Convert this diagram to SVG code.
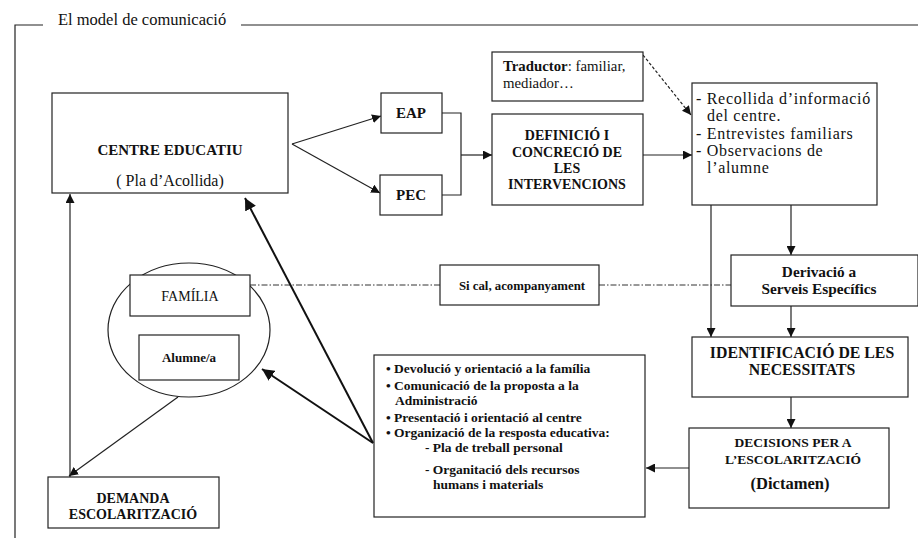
<svg xmlns="http://www.w3.org/2000/svg" width="918" height="538" viewBox="0 0 918 538">
<defs>
<marker id="ah" viewBox="0 0 10 10" refX="10" refY="5" markerWidth="9" markerHeight="9" markerUnits="userSpaceOnUse" orient="auto"><path d="M0,0 L10,5 L0,10 z" fill="#111"/></marker>
<marker id="ahs" viewBox="0 0 10 10" refX="10" refY="5" markerWidth="12" markerHeight="12" markerUnits="userSpaceOnUse" orient="auto"><path d="M0,0 L10,5 L0,10 z" fill="#111"/></marker>
</defs>
<style>
.b{fill:#fff;stroke:#222;stroke-width:1.2}
.t{font-family:"Liberation Serif","Times New Roman",serif;fill:#111}
.bd{font-weight:bold}
.c{text-anchor:middle}
.ln{fill:none;stroke:#222;stroke-width:1.2}
.th{fill:none;stroke:#111;stroke-width:2}
.dd{fill:none;stroke:#333;stroke-width:1;stroke-dasharray:6 2 1.5 2}
.inf{font-size:16px;letter-spacing:0.7px}
</style>
<rect width="918" height="538" fill="#fff"/>
<g id="frame">
<path class="ln" d="M43,25 H15 V538"/>
<path class="ln" d="M241,25 H918"/>
<text class="t" x="58" y="25" font-size="16.5">El model de comunicació</text>
</g>
<g id="connectors">
<path class="ln" d="M292,144 L381,116" marker-end="url(#ah)"/>
<path class="ln" d="M292,144 L380,193" marker-end="url(#ah)"/>
<path class="ln" d="M442,113 H461 V195 H442"/>
<path class="ln" d="M461,155 H492" marker-end="url(#ah)"/>
<path class="ln" d="M643,155 H692" marker-end="url(#ah)"/>
<path class="ln" d="M643,55 L691,115" stroke-dasharray="3 2" marker-end="url(#ah)"/>
<path class="ln" d="M791,205 V255" marker-end="url(#ah)"/>
<path class="ln" d="M711,205 V337" marker-end="url(#ah)"/>
<path class="ln" d="M791,306 V337" marker-end="url(#ah)"/>
<path class="ln" d="M791,397 V428" marker-end="url(#ah)"/>
<path class="ln" d="M689,468 H646" marker-end="url(#ah)"/>
<path class="dd" d="M250,285 H440"/>
<path class="dd" d="M599,285 H731"/>
<path class="ln" d="M178,397 L69,476" marker-end="url(#ah)"/>
<path class="ln" d="M70,477 V194" marker-end="url(#ah)"/>
<path class="th" d="M373,443 L245,198" marker-end="url(#ahs)"/>
<path class="th" d="M373,443 L262,369" marker-end="url(#ahs)"/>
</g>
<g id="centre">
<rect class="b" x="52" y="93" width="236" height="100"/>
<text class="t bd c" x="170" y="155" font-size="15">CENTRE EDUCATIU</text>
<text class="t c" x="170" y="186" font-size="16">( Pla d’Acollida)</text>
</g>
<g id="eap">
<rect class="b" x="381" y="93" width="61" height="40"/>
<text class="t bd c" x="411" y="118" font-size="15">EAP</text>
</g>
<g id="pec">
<rect class="b" x="380" y="175" width="62" height="40"/>
<text class="t bd c" x="411" y="200" font-size="15">PEC</text>
</g>
<g id="traductor">
<rect class="b" x="492" y="52" width="151" height="49"/>
<text class="t" x="503" y="71" font-size="14.8"><tspan font-weight="bold">Traductor</tspan>:  familiar,</text>
<text class="t" x="503" y="88" font-size="14.8">mediador…</text>
</g>
<g id="definicio">
<rect class="b" x="492" y="114" width="151" height="91"/>
<text class="t bd c" x="567" y="140" font-size="14">DEFINICIÓ I</text>
<text class="t bd c" x="567" y="157" font-size="14">CONCRECIÓ DE</text>
<text class="t bd c" x="567" y="173" font-size="14">LES</text>
<text class="t bd c" x="567" y="189" font-size="14">INTERVENCIONS</text>
</g>
<g id="info">
<rect class="b" x="692" y="83" width="185" height="122"/>
<text class="t inf" x="696" y="104">- Recollida d’informació</text>
<text class="t inf" x="707" y="121">del centre.</text>
<text class="t inf" x="696" y="139">- Entrevistes familiars</text>
<text class="t inf" x="696" y="156">- Observacions de</text>
<text class="t inf" x="707" y="173">l’alumne</text>
</g>
<g id="derivacio">
<rect class="b" x="731" y="255" width="187" height="51"/>
<text class="t bd c" x="819" y="277" font-size="15.3">Derivació a</text>
<text class="t bd c" x="819" y="294" font-size="15.3">Serveis Específics</text>
</g>
<g id="sical">
<rect class="b" x="440" y="265" width="159" height="40"/>
<text class="t bd c" x="522" y="290" font-size="12.8">Si cal, acompanyament</text>
</g>
<g id="identificacio">
<rect class="b" x="692" y="337" width="216" height="60"/>
<text class="t bd c" x="802" y="358" font-size="15.8">IDENTIFICACIÓ DE LES</text>
<text class="t bd c" x="802" y="375" font-size="15.8">NECESSITATS</text>
</g>
<g id="decisions">
<rect class="b" x="689" y="428" width="200" height="80"/>
<text class="t bd c" x="793" y="447" font-size="13.5">DECISIONS PER A</text>
<text class="t bd c" x="793" y="464" font-size="13.5">L’ESCOLARITZACIÓ</text>
<text class="t bd c" x="790" y="489" font-size="16.5">(Dictamen)</text>
</g>
<g id="devolucio">
<rect class="b" x="374" y="355" width="271" height="162"/>
<g class="t bd" font-size="13.5">
<text x="386" y="373">• Devolució y orientació a la família</text>
<text x="386" y="390">• Comunicació de la proposta a la</text>
<text x="395" y="405">Administració</text>
<text x="386" y="422">• Presentació i orientació al centre</text>
<text x="386" y="437">• Organizació de la resposta educativa:</text>
<text x="425" y="452">- Pla de treball personal</text>
<text x="425" y="474">- Organitació dels recursos</text>
<text x="433" y="489">humans i materials</text>
</g>
</g>
<g id="familia-group">
<ellipse cx="189" cy="330" rx="81" ry="67" fill="#fff" stroke="#222" stroke-width="1.2"/>
</g>
<g id="familia">
<rect class="b" x="130" y="275" width="120" height="41"/>
<text class="t c" x="190" y="301" font-size="14">FAMÍLIA</text>
</g>
<g id="alumne">
<rect class="b" x="139" y="335" width="100" height="45"/>
<text class="t bd c" x="189" y="362" font-size="13">Alumne/a</text>
</g>
<g id="demanda">
<rect class="b" x="48" y="477" width="171" height="51"/>
<text class="t bd c" x="133" y="503" font-size="14">DEMANDA</text>
<text class="t bd c" x="133" y="519" font-size="14">ESCOLARITZACIÓ</text>
</g>
</svg>
